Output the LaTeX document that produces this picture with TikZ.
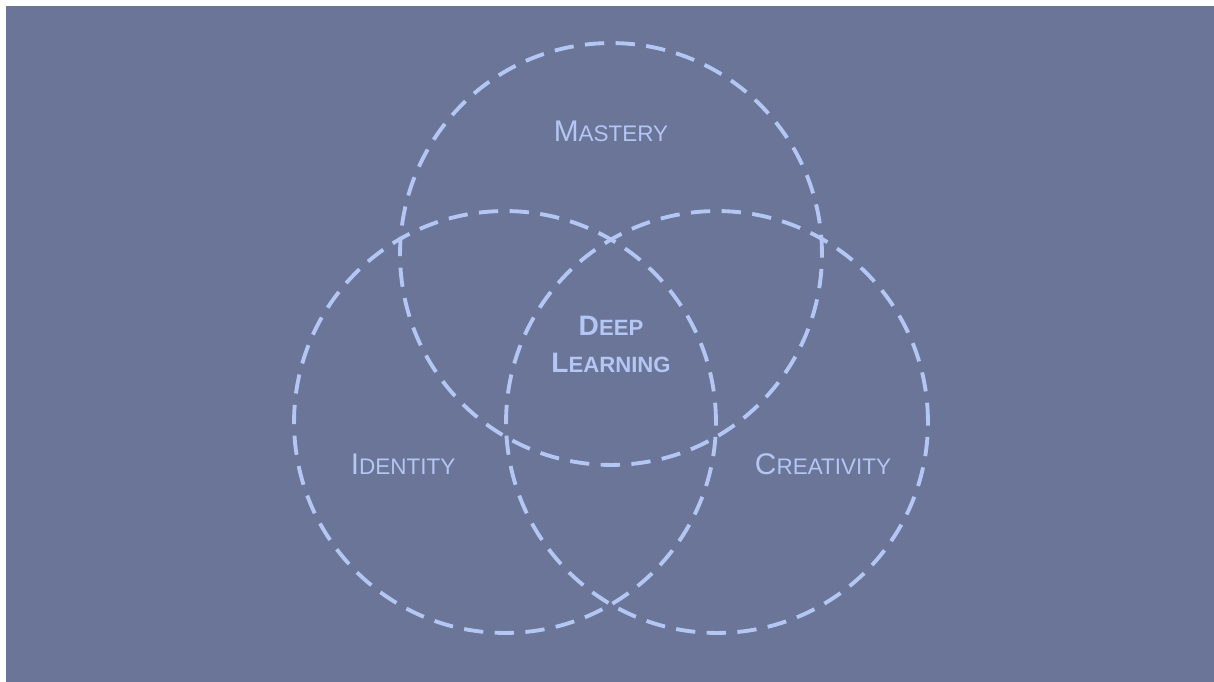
\documentclass[tikz,border=0pt]{standalone}
\usepackage{fontspec}
\setmainfont{Liberation Sans}
\definecolor{slate}{HTML}{6A7598}
\definecolor{pale}{HTML}{B3C6F4}
\newcommand{\smcap}[2]{{\fontsize{17}{17}\selectfont #1}{\fontsize{12.8}{12.8}\selectfont #2}}
\newcommand{\bsmcap}[2]{{\bfseries{\fontsize{16}{16}\selectfont #1}{\fontsize{12.6}{12.6}\selectfont #2}}}
\tikzset{
  every picture/.style={x=0.02cm, y=-0.02cm},
  ring/.style={circle, draw=pale, line width=2.2pt,
               dash pattern=on 11pt off 6.5pt, minimum size=8.44cm},
  label text/.style={text=pale, inner sep=0pt}}

\begin{document}
\begin{tikzpicture}
    \useasboundingbox (0,0) rectangle (1214,682);
    \fill [white] (0,0) rectangle (1214,682);
    \fill [slate] (6,6) rectangle (1214,682);

    \node [ring] (mastery) at (611,254) {};
    \node [ring] (identity) at (505,422) {};
    \node [ring] (creativity) at (717,422) {};

    \node [label text] (masterytext) at (611,131) {\smcap{M}{ASTERY}};
    \node [label text] (identitytext) at (403,464) {\smcap{I}{DENTITY}};
    \node [label text] (creativitytext) at (823,464) {\smcap{C}{REATIVITY}};
    \node [label text, align=center] (deeptext) at (611,344)
    {
      \bsmcap{D}{EEP}\\[9pt]
      \bsmcap{L}{EARNING}
    };
  \end{tikzpicture}
\end{document}
